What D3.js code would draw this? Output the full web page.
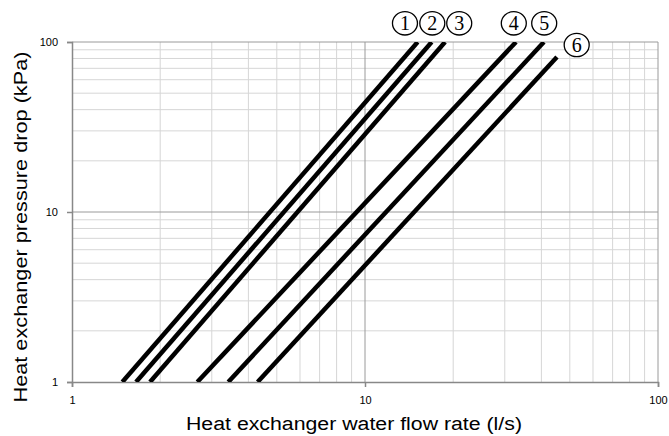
<!DOCTYPE html>
<html>
<head>
<meta charset="utf-8">
<script src="https://cdn.jsdelivr.net/npm/d3@7"></script>
<style>
  html, body { margin: 0; padding: 0; background: #fff; }
  svg { display: block; }
</style>
</head>
<body>
<svg id="chart" width="669" height="436"></svg>
<script>
// Heat exchanger pressure drop curves, one per unit size (log-log)
const seriesIds   = ["1", "2", "3", "4", "5", "6"];
const flowStart   = [1.485, 1.654, 1.846, 2.677, 3.415, 4.30];   // l/s at 1 kPa
const flowEnd     = [15.13, 16.89, 18.76, 32.76, 40.8, 45.2];     // l/s at end of curve
const dropStart   = [1, 1, 1, 1, 1, 1];                           // kPa
const dropEnd     = [100, 100, 100, 100, 100, 81.6];              // kPa
// Where each circled number sits, in data units
const labelFlow   = [13.69, 16.97, 20.97, 32.2, 40.89, 52.78];
const labelDrop   = [128.8, 128.8, 128.8, 128.8, 128.8, 96];

const xTickLabels = [1, 10, 100];
const yTickLabels = [1, 10, 100];

const margin = { left: 72, top: 42, right: 11, bottom: 54 };
const W = 669, H = 436;
const svg = d3.select("#chart");

const x = d3.scaleLog().domain([1, 100]).range([margin.left, W - margin.right]);
const y = d3.scaleLog().domain([1, 100]).range([H - margin.bottom, margin.top]);

// Minor and major grid values
const minor = [];
[1, 10].forEach(d => { for (let k = 2; k <= 9; k++) minor.push(d * k); });

const grid = svg.append("g");
grid.selectAll(".vmin").data(minor).join("line")
  .attr("x1", d => x(d)).attr("x2", d => x(d))
  .attr("y1", y(1)).attr("y2", y(100))
  .attr("stroke", "#d6d6d6").attr("stroke-width", 1);
grid.selectAll(".hmin").data(minor).join("line")
  .attr("y1", d => y(d)).attr("y2", d => y(d))
  .attr("x1", x(1)).attr("x2", x(100))
  .attr("stroke", "#d6d6d6").attr("stroke-width", 1);
grid.selectAll(".vmaj").data([10, 100]).join("line")
  .attr("x1", d => x(d)).attr("x2", d => x(d))
  .attr("y1", y(1)).attr("y2", y(100))
  .attr("stroke", "#9a9a9a").attr("stroke-width", 1);
grid.selectAll(".hmaj").data([10, 100]).join("line")
  .attr("y1", d => y(d)).attr("y2", d => y(d))
  .attr("x1", x(1)).attr("x2", x(100))
  .attr("stroke", "#9a9a9a").attr("stroke-width", 1);

// Axes
const fmt = d => String(d);
const xAxis = svg.append("g")
  .attr("transform", `translate(0,${y(1)})`)
  .call(d3.axisBottom(x).tickValues(xTickLabels).tickFormat(fmt).tickSize(5).tickPadding(9));
const yAxis = svg.append("g")
  .attr("transform", `translate(${x(1)},0)`)
  .call(d3.axisLeft(y).tickValues(yTickLabels).tickFormat(fmt).tickSize(5).tickPadding(9));
[xAxis, yAxis].forEach(a => {
  a.select(".domain").attr("stroke", "#888").attr("stroke-width", 1.5);
  a.selectAll(".tick line").attr("stroke", "#888").attr("stroke-width", 1.5);
  a.selectAll("text").attr("font-family", "Liberation Sans, Arial, sans-serif")
    .attr("font-size", 11).attr("fill", "#000");
});

// Curves
const clipId = "plotClip";
svg.append("clipPath").attr("id", clipId).append("rect")
  .attr("x", x(1)).attr("y", y(100))
  .attr("width", x(100) - x(1)).attr("height", y(1) - y(100));

const line = d3.line().x(d => x(d[0])).y(d => y(d[1]));
const curves = seriesIds.map((id, i) => ({
  id,
  pts: [[flowStart[i], dropStart[i]], [flowEnd[i], dropEnd[i]]]
}));
svg.append("g").attr("clip-path", `url(#${clipId})`)
  .selectAll("path").data(curves).join("path")
  .attr("d", d => line(d.pts))
  .attr("fill", "none").attr("stroke", "#000").attr("stroke-width", 4.5);

// Circled series numbers
const lbl = svg.append("g").selectAll("g").data(seriesIds).join("g")
  .attr("transform", (d, i) => `translate(${x(labelFlow[i])},${y(labelDrop[i])})`);
lbl.append("ellipse").attr("rx", 12.5).attr("ry", 11.7)
  .attr("fill", "#fff").attr("stroke", "#000").attr("stroke-width", 1.3);
lbl.append("text").text(d => d)
  .attr("text-anchor", "middle").attr("dy", "0.34em")
  .attr("font-family", "Liberation Serif, Times New Roman, serif")
  .attr("font-size", 20).attr("fill", "#000");

// Axis titles
svg.append("text")
  .attr("x", 354).attr("y", 430)
  .attr("text-anchor", "middle")
  .attr("textLength", 336).attr("lengthAdjust", "spacingAndGlyphs")
  .attr("font-family", "Liberation Sans, Arial, sans-serif").attr("font-size", 18)
  .text("Heat exchanger water flow rate (l/s)");
svg.append("text")
  .attr("transform", `translate(26.7,227) rotate(-90)`)
  .attr("text-anchor", "middle")
  .attr("textLength", 351).attr("lengthAdjust", "spacingAndGlyphs")
  .attr("font-family", "Liberation Sans, Arial, sans-serif").attr("font-size", 18)
  .text("Heat exchanger pressure drop (kPa)");
</script>
</body>
</html>
